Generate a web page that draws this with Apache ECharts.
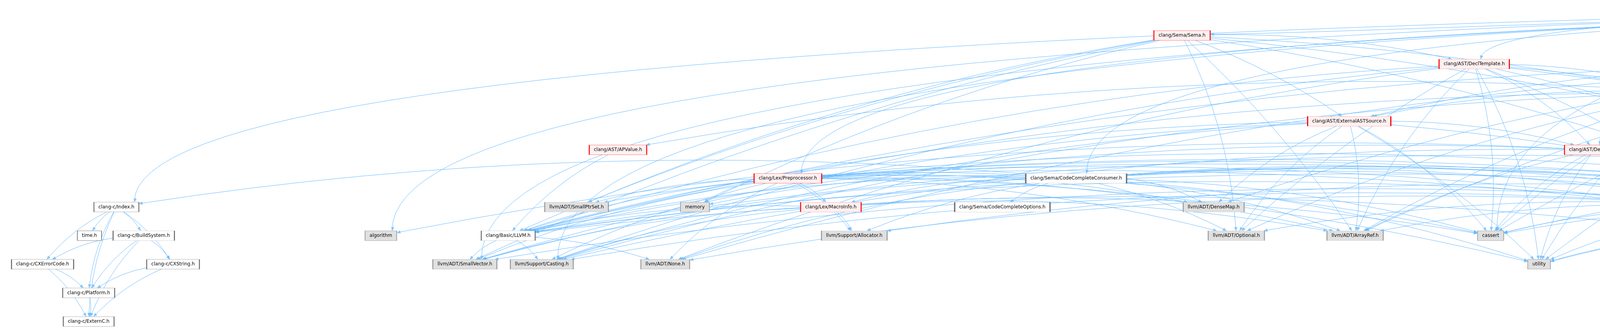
<!DOCTYPE html>
<html>
<head>
<meta charset="utf-8">
<title>lib/Sema/CodeCompleteConsumer.cpp include graph</title>
<script src="https://cdn.jsdelivr.net/npm/echarts@6/dist/echarts.min.js"></script>
<style>
  html, body { margin: 0; padding: 0; background: #fff; }
  #main { width: 7055px; height: 843px; }
</style>
</head>
<body>
<div id="main"></div>
<script>
// the file whose includes are drawn
const rootFile = "lib/Sema/CodeCompleteConsumer.cpp";

// headers whose own includes are cut off (red boxes)
const truncatedHeaders = [
  "clang/Sema/Sema.h", "clang/AST/DeclTemplate.h", "clang/AST/DeclObjC.h",
  "clang/AST/Decl.h", "clang/AST/ExternalASTSource.h", "clang/AST/ASTContextAllocate.h",
  "clang/AST/DeclAccessPair.h", "clang/AST/APValue.h", "clang/AST/DeclBase.h",
  "clang/Lex/Preprocessor.h", "clang/AST/DeclarationName.h", "clang/Lex/MacroInfo.h",
  "clang/AST/Type.h", "clang/Sema/DeclSpec.h", "clang/Basic/IdentifierTable.h",
  "clang/AST/NestedNameSpecifier.h"
];

// documented headers (white boxes)
const documentedHeaders = [
  "clang/Sema/CodeCompleteConsumer.h", "clang-c/Index.h", "clang/Sema/CodeCompleteOptions.h",
  "time.h", "clang-c/BuildSystem.h", "clang/Basic/LLVM.h", "clang-c/CXErrorCode.h",
  "clang-c/CXString.h", "clang-c/Platform.h", "clang-c/ExternC.h"
];

// headers outside the project (grey boxes)
const externalHeaders = [
  "llvm/ADT/StringExtras.h", "llvm/Support/FormatVariadic.h", "llvm/Support/raw_ostream.h",
  "llvm/ADT/SmallPtrSet.h", "memory", "llvm/ADT/DenseMap.h", "algorithm",
  "llvm/Support/Allocator.h", "llvm/ADT/Optional.h", "llvm/ADT/ArrayRef.h", "cassert",
  "llvm/Support/ErrorHandling.h", "llvm/Support/type_traits.h", "string",
  "llvm/ADT/StringRef.h", "llvm/ADT/Twine.h", "llvm/ADT/SmallString.h",
  "llvm/ADT/SmallVector.h", "llvm/Support/Casting.h", "llvm/ADT/None.h", "utility",
  "cstdint", "llvm/Support/Compiler.h"
];

// what the .cpp includes directly
const rootIncludes = [
  "clang/Sema/CodeCompleteConsumer.h", "clang-c/Index.h", "clang/AST/Decl.h",
  "clang/AST/DeclBase.h", "clang/AST/DeclObjC.h", "clang/AST/DeclTemplate.h",
  "clang/AST/DeclarationName.h", "clang/AST/Type.h", "clang/Basic/IdentifierTable.h",
  "clang/Lex/Preprocessor.h", "clang/Sema/Sema.h", "llvm/ADT/SmallString.h",
  "llvm/ADT/SmallVector.h", "llvm/ADT/StringExtras.h", "llvm/ADT/StringRef.h",
  "llvm/ADT/Twine.h", "llvm/Support/Casting.h", "llvm/Support/Compiler.h",
  "llvm/Support/ErrorHandling.h", "llvm/Support/FormatVariadic.h",
  "llvm/Support/raw_ostream.h", "algorithm", "cassert", "cstdint", "string"
];

// header -> included header
const headerIncludes = [
  ["clang/Sema/CodeCompleteConsumer.h", "clang-c/Index.h"],
  ["clang/Sema/CodeCompleteConsumer.h", "clang/AST/Type.h"],
  ["clang/Sema/CodeCompleteConsumer.h", "clang/Basic/LLVM.h"],
  ["clang/Sema/CodeCompleteConsumer.h", "clang/Lex/MacroInfo.h"],
  ["clang/Sema/CodeCompleteConsumer.h", "clang/Sema/CodeCompleteOptions.h"],
  ["clang/Sema/CodeCompleteConsumer.h", "clang/Sema/DeclSpec.h"],
  ["clang/Sema/CodeCompleteConsumer.h", "llvm/ADT/ArrayRef.h"],
  ["clang/Sema/CodeCompleteConsumer.h", "llvm/ADT/DenseMap.h"],
  ["clang/Sema/CodeCompleteConsumer.h", "llvm/ADT/None.h"],
  ["clang/Sema/CodeCompleteConsumer.h", "llvm/ADT/Optional.h"],
  ["clang/Sema/CodeCompleteConsumer.h", "llvm/ADT/SmallPtrSet.h"],
  ["clang/Sema/CodeCompleteConsumer.h", "llvm/ADT/SmallVector.h"],
  ["clang/Sema/CodeCompleteConsumer.h", "llvm/ADT/StringRef.h"],
  ["clang/Sema/CodeCompleteConsumer.h", "llvm/Support/Allocator.h"],
  ["clang/Sema/CodeCompleteConsumer.h", "llvm/Support/type_traits.h"],
  ["clang/Sema/CodeCompleteConsumer.h", "cassert"],
  ["clang/Sema/CodeCompleteConsumer.h", "memory"],
  ["clang/Sema/CodeCompleteConsumer.h", "string"],
  ["clang/Sema/CodeCompleteConsumer.h", "utility"],

  ["clang-c/Index.h", "time.h"],
  ["clang-c/Index.h", "clang-c/BuildSystem.h"],
  ["clang-c/Index.h", "clang-c/CXErrorCode.h"],
  ["clang-c/Index.h", "clang-c/CXString.h"],
  ["clang-c/Index.h", "clang-c/Platform.h"],
  ["clang-c/Index.h", "clang-c/ExternC.h"],
  ["clang-c/BuildSystem.h", "clang-c/CXErrorCode.h"],
  ["clang-c/BuildSystem.h", "clang-c/CXString.h"],
  ["clang-c/BuildSystem.h", "clang-c/Platform.h"],
  ["clang-c/BuildSystem.h", "clang-c/ExternC.h"],
  ["clang-c/CXErrorCode.h", "clang-c/Platform.h"],
  ["clang-c/CXErrorCode.h", "clang-c/ExternC.h"],
  ["clang-c/CXString.h", "clang-c/Platform.h"],
  ["clang-c/CXString.h", "clang-c/ExternC.h"],
  ["clang-c/Platform.h", "clang-c/ExternC.h"],

  ["clang/Basic/LLVM.h", "llvm/ADT/SmallVector.h"],
  ["clang/Basic/LLVM.h", "llvm/Support/Casting.h"],
  ["clang/Basic/LLVM.h", "llvm/ADT/None.h"],

  ["clang/Sema/Sema.h", "clang/AST/DeclTemplate.h"],
  ["clang/Sema/Sema.h", "clang/AST/DeclarationName.h"],
  ["clang/Sema/Sema.h", "clang/AST/ExternalASTSource.h"],
  ["clang/Sema/Sema.h", "clang/Sema/DeclSpec.h"],
  ["clang/Sema/Sema.h", "clang/Basic/LLVM.h"],
  ["clang/Sema/Sema.h", "llvm/ADT/ArrayRef.h"],
  ["clang/Sema/Sema.h", "llvm/ADT/Optional.h"],
  ["clang/Sema/Sema.h", "llvm/ADT/SmallPtrSet.h"],
  ["clang/Sema/Sema.h", "llvm/ADT/SmallVector.h"],
  ["clang/Sema/Sema.h", "memory"],
  ["clang/Sema/Sema.h", "string"],

  ["clang/AST/DeclTemplate.h", "clang/AST/Decl.h"],
  ["clang/AST/DeclTemplate.h", "clang/AST/DeclBase.h"],
  ["clang/AST/DeclTemplate.h", "clang/AST/DeclarationName.h"],
  ["clang/AST/DeclTemplate.h", "clang/AST/Type.h"],
  ["clang/AST/DeclTemplate.h", "clang/Basic/LLVM.h"],
  ["clang/AST/DeclTemplate.h", "llvm/ADT/ArrayRef.h"],
  ["clang/AST/DeclTemplate.h", "llvm/ADT/None.h"],
  ["clang/AST/DeclTemplate.h", "llvm/ADT/Optional.h"],
  ["clang/AST/DeclTemplate.h", "llvm/Support/Casting.h"],
  ["clang/AST/DeclTemplate.h", "llvm/Support/Compiler.h"],
  ["clang/AST/DeclTemplate.h", "cassert"],
  ["clang/AST/DeclTemplate.h", "cstdint"],
  ["clang/AST/DeclTemplate.h", "utility"],

  ["clang/AST/DeclObjC.h", "clang/AST/Decl.h"],
  ["clang/AST/DeclObjC.h", "clang/AST/DeclBase.h"],
  ["clang/AST/DeclObjC.h", "clang/AST/DeclarationName.h"],
  ["clang/AST/DeclObjC.h", "clang/AST/ExternalASTSource.h"],
  ["clang/AST/DeclObjC.h", "clang/AST/Type.h"],
  ["clang/AST/DeclObjC.h", "clang/Basic/IdentifierTable.h"],
  ["clang/AST/DeclObjC.h", "clang/Basic/LLVM.h"],
  ["clang/AST/DeclObjC.h", "llvm/ADT/ArrayRef.h"],
  ["clang/AST/DeclObjC.h", "llvm/ADT/DenseMap.h"],
  ["clang/AST/DeclObjC.h", "llvm/ADT/None.h"],
  ["clang/AST/DeclObjC.h", "llvm/ADT/StringRef.h"],
  ["clang/AST/DeclObjC.h", "llvm/Support/Compiler.h"],
  ["clang/AST/DeclObjC.h", "cassert"],
  ["clang/AST/DeclObjC.h", "cstdint"],
  ["clang/AST/DeclObjC.h", "string"],
  ["clang/AST/DeclObjC.h", "utility"],

  ["clang/AST/Decl.h", "clang/AST/APValue.h"],
  ["clang/AST/Decl.h", "clang/AST/ASTContextAllocate.h"],
  ["clang/AST/Decl.h", "clang/AST/DeclAccessPair.h"],
  ["clang/AST/Decl.h", "clang/AST/DeclBase.h"],
  ["clang/AST/Decl.h", "clang/AST/DeclarationName.h"],
  ["clang/AST/Decl.h", "clang/AST/ExternalASTSource.h"],
  ["clang/AST/Decl.h", "clang/AST/NestedNameSpecifier.h"],
  ["clang/AST/Decl.h", "clang/AST/Type.h"],
  ["clang/AST/Decl.h", "clang/Basic/IdentifierTable.h"],
  ["clang/AST/Decl.h", "clang/Basic/LLVM.h"],
  ["clang/AST/Decl.h", "llvm/ADT/ArrayRef.h"],
  ["clang/AST/Decl.h", "llvm/ADT/Optional.h"],
  ["clang/AST/Decl.h", "llvm/ADT/StringRef.h"],
  ["clang/AST/Decl.h", "llvm/Support/Casting.h"],
  ["clang/AST/Decl.h", "llvm/Support/Compiler.h"],
  ["clang/AST/Decl.h", "cassert"],
  ["clang/AST/Decl.h", "cstdint"],
  ["clang/AST/Decl.h", "string"],
  ["clang/AST/Decl.h", "utility"],

  ["clang/AST/ExternalASTSource.h", "clang/AST/DeclBase.h"],
  ["clang/AST/ExternalASTSource.h", "clang/Basic/LLVM.h"],
  ["clang/AST/ExternalASTSource.h", "llvm/ADT/ArrayRef.h"],
  ["clang/AST/ExternalASTSource.h", "llvm/ADT/DenseMap.h"],
  ["clang/AST/ExternalASTSource.h", "llvm/ADT/Optional.h"],
  ["clang/AST/ExternalASTSource.h", "llvm/ADT/SmallVector.h"],
  ["clang/AST/ExternalASTSource.h", "llvm/Support/Casting.h"],
  ["clang/AST/ExternalASTSource.h", "cassert"],
  ["clang/AST/ExternalASTSource.h", "cstdint"],
  ["clang/AST/ExternalASTSource.h", "utility"],

  ["clang/AST/APValue.h", "clang/Basic/LLVM.h"],

  ["clang/AST/DeclBase.h", "clang/AST/DeclarationName.h"],
  ["clang/AST/DeclBase.h", "clang/Basic/IdentifierTable.h"],
  ["clang/AST/DeclBase.h", "clang/Basic/LLVM.h"],
  ["clang/AST/DeclBase.h", "llvm/ADT/ArrayRef.h"],
  ["clang/AST/DeclBase.h", "llvm/Support/Casting.h"],
  ["clang/AST/DeclBase.h", "llvm/Support/Compiler.h"],
  ["clang/AST/DeclBase.h", "algorithm"],
  ["clang/AST/DeclBase.h", "cassert"],
  ["clang/AST/DeclBase.h", "string"],
  ["clang/AST/DeclBase.h", "utility"],

  ["clang/Lex/Preprocessor.h", "clang/Lex/MacroInfo.h"],
  ["clang/Lex/Preprocessor.h", "clang/Basic/IdentifierTable.h"],
  ["clang/Lex/Preprocessor.h", "clang/Basic/LLVM.h"],
  ["clang/Lex/Preprocessor.h", "llvm/ADT/SmallPtrSet.h"],
  ["clang/Lex/Preprocessor.h", "memory"],
  ["clang/Lex/Preprocessor.h", "llvm/Support/Allocator.h"],
  ["clang/Lex/Preprocessor.h", "llvm/Support/Casting.h"],
  ["clang/Lex/Preprocessor.h", "llvm/ADT/None.h"],
  ["clang/Lex/Preprocessor.h", "llvm/ADT/SmallVector.h"],
  ["clang/Lex/Preprocessor.h", "llvm/ADT/ArrayRef.h"],
  ["clang/Lex/Preprocessor.h", "llvm/ADT/DenseMap.h"],
  ["clang/Lex/Preprocessor.h", "llvm/ADT/Optional.h"],
  ["clang/Lex/Preprocessor.h", "llvm/ADT/StringRef.h"],
  ["clang/Lex/Preprocessor.h", "llvm/Support/Compiler.h"],
  ["clang/Lex/Preprocessor.h", "llvm/Support/ErrorHandling.h"],
  ["clang/Lex/Preprocessor.h", "cassert"],
  ["clang/Lex/Preprocessor.h", "cstdint"],
  ["clang/Lex/Preprocessor.h", "string"],
  ["clang/Lex/Preprocessor.h", "utility"],

  ["clang/Lex/MacroInfo.h", "llvm/Support/Allocator.h"],
  ["clang/Lex/MacroInfo.h", "clang/Basic/LLVM.h"],
  ["clang/Lex/MacroInfo.h", "llvm/ADT/ArrayRef.h"],
  ["clang/Lex/MacroInfo.h", "llvm/ADT/SmallVector.h"],
  ["clang/Lex/MacroInfo.h", "llvm/Support/Casting.h"],
  ["clang/Lex/MacroInfo.h", "cassert"],

  ["clang/AST/DeclarationName.h", "clang/Basic/IdentifierTable.h"],
  ["clang/AST/DeclarationName.h", "clang/Basic/LLVM.h"],
  ["clang/AST/DeclarationName.h", "llvm/Support/type_traits.h"],
  ["clang/AST/DeclarationName.h", "llvm/Support/Compiler.h"],
  ["clang/AST/DeclarationName.h", "llvm/ADT/StringRef.h"],
  ["clang/AST/DeclarationName.h", "cassert"],
  ["clang/AST/DeclarationName.h", "cstdint"],
  ["clang/AST/DeclarationName.h", "string"],

  ["clang/AST/Type.h", "clang/AST/NestedNameSpecifier.h"],
  ["clang/AST/Type.h", "clang/Basic/LLVM.h"],
  ["clang/AST/Type.h", "llvm/ADT/ArrayRef.h"],
  ["clang/AST/Type.h", "llvm/ADT/None.h"],
  ["clang/AST/Type.h", "llvm/ADT/Optional.h"],
  ["clang/AST/Type.h", "llvm/ADT/StringRef.h"],
  ["clang/AST/Type.h", "llvm/ADT/Twine.h"],
  ["clang/AST/Type.h", "llvm/Support/Casting.h"],
  ["clang/AST/Type.h", "llvm/Support/Compiler.h"],
  ["clang/AST/Type.h", "llvm/Support/ErrorHandling.h"],
  ["clang/AST/Type.h", "llvm/Support/type_traits.h"],
  ["clang/AST/Type.h", "cassert"],
  ["clang/AST/Type.h", "cstdint"],
  ["clang/AST/Type.h", "string"],
  ["clang/AST/Type.h", "utility"],

  ["clang/Sema/DeclSpec.h", "clang/AST/NestedNameSpecifier.h"],
  ["clang/Sema/DeclSpec.h", "llvm/ADT/SmallVector.h"],
  ["clang/Sema/DeclSpec.h", "llvm/Support/Compiler.h"],
  ["clang/Sema/DeclSpec.h", "llvm/Support/ErrorHandling.h"],

  ["clang/AST/NestedNameSpecifier.h", "clang/Basic/LLVM.h"],
  ["clang/AST/NestedNameSpecifier.h", "llvm/Support/Compiler.h"],
  ["clang/AST/NestedNameSpecifier.h", "cstdint"],
  ["clang/AST/NestedNameSpecifier.h", "utility"],

  ["clang/Basic/IdentifierTable.h", "clang/Basic/LLVM.h"],
  ["clang/Basic/IdentifierTable.h", "llvm/ADT/SmallString.h"],
  ["clang/Basic/IdentifierTable.h", "llvm/ADT/StringRef.h"],
  ["clang/Basic/IdentifierTable.h", "llvm/Support/Allocator.h"],
  ["clang/Basic/IdentifierTable.h", "llvm/Support/type_traits.h"],
  ["clang/Basic/IdentifierTable.h", "cassert"],
  ["clang/Basic/IdentifierTable.h", "cstdint"],
  ["clang/Basic/IdentifierTable.h", "string"],
  ["clang/Basic/IdentifierTable.h", "utility"]
];

// layout: [centre x, rank]
const layout = {
  "lib/Sema/CodeCompleteConsumer.cpp": [5398, 0],
  "clang/Sema/Sema.h": [3026, 1],
  "llvm/ADT/StringExtras.h": [6487, 1],
  "llvm/Support/FormatVariadic.h": [6709, 1],
  "llvm/Support/raw_ostream.h": [6946, 1],
  "clang/AST/DeclTemplate.h": [3774, 2],
  "clang/AST/DeclObjC.h": [4815, 2],
  "clang/AST/Decl.h": [4331, 3],
  "clang/AST/ExternalASTSource.h": [3454, 4],
  "clang/AST/ASTContextAllocate.h": [4212, 4],
  "clang/AST/DeclAccessPair.h": [4451, 4],
  "clang/AST/APValue.h": [1582, 5],
  "clang/AST/DeclBase.h": [4082, 5],
  "clang/Lex/Preprocessor.h": [2017, 6],
  "clang/Sema/CodeCompleteConsumer.h": [2755, 6],
  "clang/AST/DeclarationName.h": [5189, 6],
  "clang-c/Index.h": [298, 7],
  "llvm/ADT/SmallPtrSet.h": [1476, 7],
  "memory": [1779, 7],
  "clang/Lex/MacroInfo.h": [2127, 7],
  "clang/Sema/CodeCompleteOptions.h": [2566, 7],
  "llvm/ADT/DenseMap.h": [3107, 7],
  "clang/AST/Type.h": [4447, 7],
  "clang/Sema/DeclSpec.h": [4624, 7],
  "clang/Basic/IdentifierTable.h": [5092, 7],
  "time.h": [229, 8],
  "clang-c/BuildSystem.h": [368, 8],
  "algorithm": [975, 8],
  "clang/Basic/LLVM.h": [1301, 8],
  "llvm/Support/Allocator.h": [2187, 8],
  "llvm/ADT/Optional.h": [3165, 8],
  "llvm/ADT/ArrayRef.h": [3469, 8],
  "cassert": [3816, 8],
  "clang/AST/NestedNameSpecifier.h": [4452, 8],
  "llvm/Support/ErrorHandling.h": [4804, 8],
  "llvm/Support/type_traits.h": [5030, 8],
  "string": [5381, 8],
  "llvm/ADT/StringRef.h": [5514, 8],
  "llvm/ADT/Twine.h": [5735, 8],
  "llvm/ADT/SmallString.h": [6065, 8],
  "clang-c/CXErrorCode.h": [109, 9],
  "clang-c/CXString.h": [443, 9],
  "llvm/ADT/SmallVector.h": [1190, 9],
  "llvm/Support/Casting.h": [1387, 9],
  "llvm/ADT/None.h": [1703, 9],
  "utility": [3940, 9],
  "cstdint": [5239, 9],
  "llvm/Support/Compiler.h": [5942, 9],
  "clang-c/Platform.h": [227, 10],
  "clang-c/ExternC.h": [227, 11]
};

const W = 7055, H = 843;
const FONT = '12px "DejaVu Sans"';
const BOX_H = 25, PAD = 23, RANK0 = 17.5, RANK_STEP = 73.3;
const ARROW_LEN = 9;

const ctx = document.createElement("canvas").getContext("2d");
ctx.font = FONT;

const styles = {
  root: { color: "#999999", borderColor: "#666666" },
  red: { color: "#FFF0F0", borderColor: "#FF0000" },
  white: { color: "#FFFFFF", borderColor: "#666666" },
  grey: { color: "#E0E0E0", borderColor: "#999999" }
};
function kindOf(name) {
  if (name === rootFile) return "root";
  if (truncatedHeaders.includes(name)) return "red";
  if (documentedHeaders.includes(name)) return "white";
  return "grey";
}

const boxes = {};
Object.keys(layout).forEach(function (name) {
  const p = layout[name];
  boxes[name] = {
    x: p[0],
    y: RANK0 + p[1] * RANK_STEP,
    hw: (Math.ceil(ctx.measureText(name).width) + PAD) / 2,
    hh: BOX_H / 2
  };
});

// point where a ray from the box centre towards (tx, ty) leaves the box
function exitPoint(b, tx, ty) {
  const dx = tx - b.x, dy = ty - b.y;
  const t = Math.min(dx ? b.hw / Math.abs(dx) : Infinity, dy ? b.hh / Math.abs(dy) : Infinity);
  return [b.x + dx * t, b.y + dy * t];
}

function cubic(p0, p1, p2, p3, n) {
  const pts = [];
  for (let i = 0; i <= n; i++) {
    const t = i / n, u = 1 - t;
    pts.push([
      u * u * u * p0[0] + 3 * u * u * t * p1[0] + 3 * u * t * t * p2[0] + t * t * t * p3[0],
      u * u * u * p0[1] + 3 * u * u * t * p1[1] + 3 * u * t * t * p2[1] + t * t * t * p3[1]
    ]);
  }
  return pts;
}

const curvedEdges = [];   // edges from the .cpp, routed along the top
const plainEdges = [];    // header to header
const arrowHeads = [];

function addArrow(tip, from) {
  const dx = tip[0] - from[0], dy = tip[1] - from[1];
  const len = Math.hypot(dx, dy) || 1;
  const c = [tip[0] - dx / len * ARROW_LEN / 2, tip[1] - dy / len * ARROW_LEN / 2];
  arrowHeads.push({
    value: c,
    symbolRotate: Math.atan2(-dy, dx) * 180 / Math.PI - 90
  });
  return [tip[0] - dx / len * ARROW_LEN, tip[1] - dy / len * ARROW_LEN];
}

const root = boxes[rootFile];
rootIncludes.forEach(function (name, i) {
  const b = boxes[name];
  const dx = b.x - root.x;
  const side = dx < 0 ? -1 : 1;
  let p0, p1, p2, p3;
  if (Math.abs(dx) > 500) {
    p0 = [root.x + side * root.hw, root.y + 4 + (i % 5) * 2];
  } else {
    p0 = [root.x + Math.max(-root.hw + 10, Math.min(root.hw - 10, dx * 0.4)), root.y + root.hh];
  }
  if (b.y - root.y < 100) {
    // same band: come in from the side
    p3 = [b.x - side * b.hw, b.y - 3];
    p1 = [p0[0] + dx * 0.35, p0[1] + 20];
    p2 = [p3[0] - side * 200, p3[1]];
  } else {
    p3 = [b.x + Math.max(-b.hw + 12, Math.min(b.hw - 12, -dx * 0.01)), b.y - b.hh];
    p1 = [p0[0] + (p3[0] - p0[0]) * 0.7, p0[1] + (p3[1] - p0[1]) * 0.12];
    p2 = [p3[0], p0[1] + (p3[1] - p0[1]) * 0.45];
  }
  const pts = cubic(p0, p1, p2, p3, 40);
  const tip = pts[pts.length - 1];
  pts[pts.length - 1] = addArrow(tip, pts[pts.length - 3]);
  curvedEdges.push({ coords: pts });
});

headerIncludes.forEach(function (e) {
  const a = boxes[e[0]], b = boxes[e[1]];
  const dx = b.x - a.x;
  const curv = (dx >= 0 ? 1 : -1) * (Math.abs(dx) > 400 ? 0.06 : 0.1);
  // quadratic control point placed the way the lines series places it
  const cx = (a.x + b.x) / 2 - (a.y - b.y) * curv;
  const cy = (a.y + b.y) / 2 - (b.x - a.x) * curv;
  const p1 = exitPoint(a, cx, cy);
  const tip = exitPoint(b, cx, cy);
  const p2 = addArrow(tip, [cx, cy]);
  plainEdges.push({ coords: [p1, p2], lineStyle: { curveness: curv } });
});

const nodeData = Object.keys(boxes).map(function (name) {
  const b = boxes[name];
  return {
    name: name,
    value: [b.x, b.y],
    symbolSize: [b.hw * 2, BOX_H],
    itemStyle: styles[kindOf(name)]
  };
});

const edgeStyle = { color: "#63B8FF", width: 1, opacity: 1 };

const chart = echarts.init(document.getElementById("main"), null, { renderer: "canvas" });
chart.setOption({
  animation: false,
  backgroundColor: "#ffffff",
  grid: { left: 0, right: 0, top: 0, bottom: 0 },
  xAxis: { type: "value", min: 0, max: W, show: false },
  yAxis: { type: "value", min: 0, max: H, inverse: true, show: false },
  series: [
    {
      type: "lines",
      coordinateSystem: "cartesian2d",
      polyline: true,
      z: 1,
      silent: true,
      lineStyle: edgeStyle,
      data: curvedEdges
    },
    {
      type: "lines",
      coordinateSystem: "cartesian2d",
      z: 1,
      silent: true,
      symbol: ["none", "none"],
      lineStyle: edgeStyle,
      data: plainEdges
    },
    {
      type: "scatter",
      z: 2,
      silent: true,
      symbol: "triangle",
      symbolSize: [8, ARROW_LEN + 1],
      itemStyle: { color: "#63B8FF" },
      data: arrowHeads
    },
    {
      type: "scatter",
      z: 3,
      symbol: "rect",
      silent: true,
      itemStyle: { borderWidth: 1, opacity: 1 },
      label: {
        show: true,
        position: "inside",
        formatter: "{b}",
        color: "#000000",
        fontSize: 12,
        fontFamily: "DejaVu Sans"
      },
      data: nodeData
    }
  ]
});
</script>
</body>
</html>
